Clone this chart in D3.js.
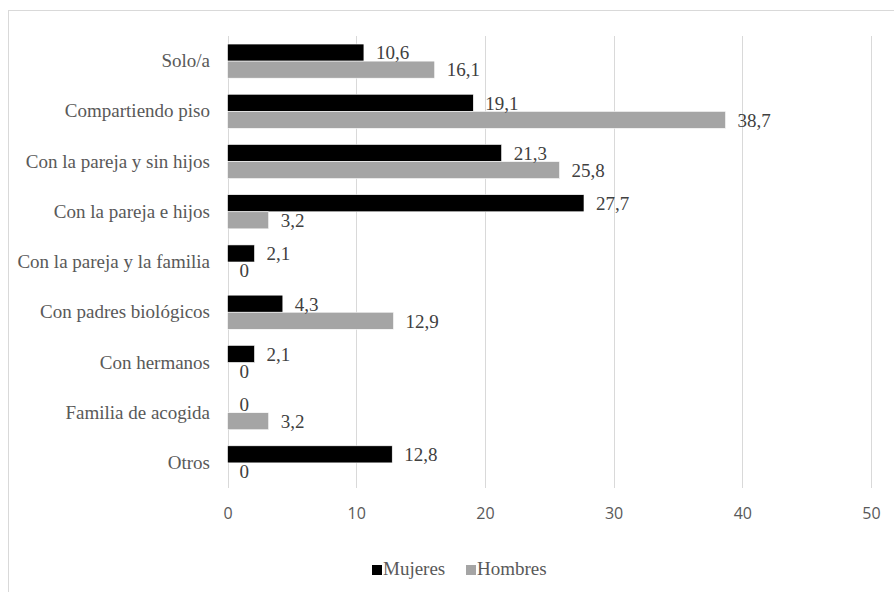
<!DOCTYPE html>
<html>
<head>
<meta charset="utf-8">
<script src="https://cdn.jsdelivr.net/npm/d3@7/dist/d3.min.js"></script>
<style>
  html, body { margin: 0; padding: 0; background: #fff; }
  svg { display: block; }
</style>
</head>
<body>
<svg id="chart" width="894" height="592"></svg>
<script>
const categories = [
  "Solo/a",
  "Compartiendo piso",
  "Con la pareja y sin hijos",
  "Con la pareja e hijos",
  "Con la pareja y la familia",
  "Con padres biológicos",
  "Con hermanos",
  "Familia de acogida",
  "Otros"
];
const seriesNames = ["Mujeres", "Hombres"];
const mujeres = [10.6, 19.1, 21.3, 27.7, 2.1, 4.3, 2.1, 0, 12.8];
const hombres = [16.1, 38.7, 25.8, 3.2, 0, 12.9, 0, 3.2, 0];
const xTicks = [0, 10, 20, 30, 40, 50];
const colors = ["#000000", "#A5A5A5"];

const SERIF = "Liberation Serif";
const SANS = "Open Sans";

const svg = d3.select("#chart");

svg.append("rect")
  .attr("x", 8.5).attr("y", 10.5)
  .attr("width", 900).attr("height", 600)
  .attr("fill", "none").attr("stroke", "#d9d9d9").attr("stroke-width", 1);

const x = d3.scaleLinear().domain([0, 50]).range([227.5, 871]);
const y = d3.scaleBand().domain(categories).range([36, 488])
  .paddingInner(0.32).paddingOuter(0.16);
const ySub = d3.scaleBand().domain(seriesNames).range([0, y.bandwidth()]);

svg.append("g").selectAll("line").data(xTicks).join("line")
  .attr("x1", d => Math.round(x(d)) + 0.5).attr("x2", d => Math.round(x(d)) + 0.5)
  .attr("y1", 36).attr("y2", 488)
  .attr("stroke", "#d9d9d9").attr("stroke-width", 1);

const xAxis = d3.axisBottom(x).tickValues(xTicks).tickSize(0).tickPadding(0).tickFormat(d3.format("d"));
const gx = svg.append("g").attr("transform", "translate(0,508)").call(xAxis)
  .attr("font-family", SANS).attr("font-size", 16);
gx.select(".domain").remove();
gx.selectAll("text").attr("fill", "#595959").attr("dy", "0.71em");

const yAxis = d3.axisLeft(y).tickSize(0).tickPadding(0);
const gy = svg.append("g").attr("transform", "translate(210,0)").call(yAxis)
  .attr("font-family", SERIF).attr("font-size", 19);
gy.select(".domain").remove();
gy.selectAll("text").attr("fill", "#595959");

const data = categories.map((c, i) => ({ cat: c, vals: [mujeres[i], hombres[i]] }));
const fmt = v => String(v).replace(".", ",");

const groups = svg.append("g")
  .attr("font-family", SERIF).attr("font-size", 19)
  .selectAll("g").data(data).join("g")
  .attr("transform", d => `translate(0,${y(d.cat)})`);

groups.selectAll("rect").data(d => d.vals.map((v, j) => ({ v, s: seriesNames[j], j })))
  .join("rect")
  .attr("x", x(0))
  .attr("y", d => ySub(d.s))
  .attr("width", d => x(d.v) - x(0))
  .attr("height", ySub.bandwidth())
  .attr("fill", d => colors[d.j])
  .attr("stroke", "#ffffff").attr("stroke-width", 0.6);

groups.selectAll("text").data(d => d.vals.map((v, j) => ({ v, s: seriesNames[j], j })))
  .join("text")
  .attr("x", d => x(d.v) + 12)
  .attr("y", d => ySub(d.s) + ySub.bandwidth() / 2)
  .attr("dy", "0.36em")
  .attr("fill", "#404040")
  .text(d => fmt(d.v));

const legendX = [372, 466];
const lg = svg.append("g").attr("font-family", SERIF).attr("font-size", 19)
  .selectAll("g").data(seriesNames).join("g")
  .attr("transform", (d, i) => `translate(${legendX[i]},565)`);
lg.append("rect").attr("width", 10).attr("height", 10).attr("fill", (d, i) => colors[i]);
lg.append("text").attr("x", 11).attr("y", 10)
  .attr("fill", "#595959")
  .text(d => d);
</script>
</body>
</html>
